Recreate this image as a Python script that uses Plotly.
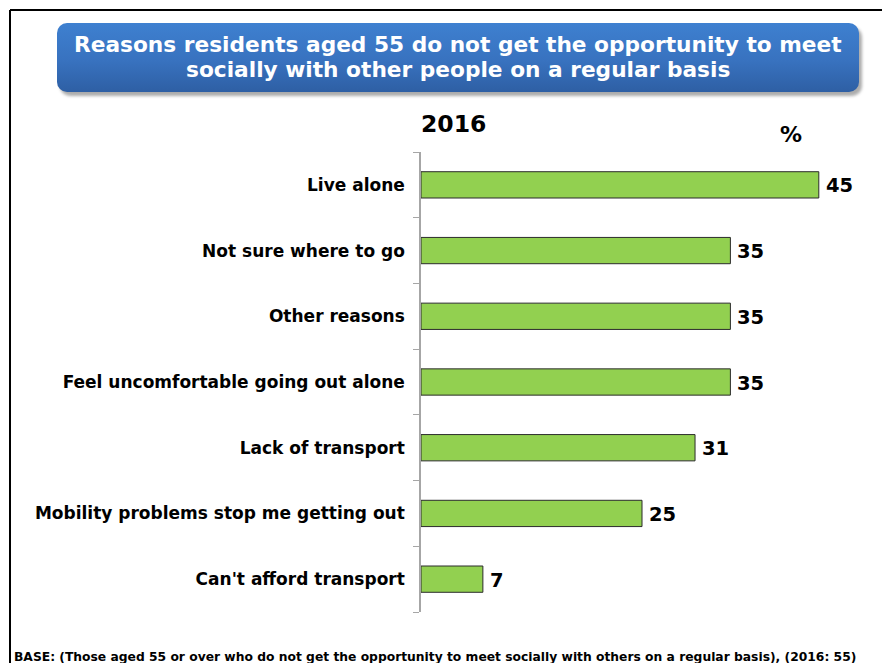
import base64
import plotly.graph_objects as go

# Survey results, 2016
categories = [
    "Live alone",
    "Not sure where to go",
    "Other reasons",
    "Feel uncomfortable going out alone",
    "Lack of transport",
    "Mobility problems stop me getting out",
    "Can't afford transport",
]
values = [45, 35, 35, 35, 31, 25, 7]
year_label = "2016"
title_lines = [
    "Reasons residents aged 55 do not get the opportunity to meet",
    "socially with other people on a regular basis",
]
base_note = ("BASE: (Those aged 55 or over who do not get the opportunity to meet "
             "socially with others on a regular basis), (2016: 55)")

W, H = 882, 663
ML, MR, MT, MB = 421, 19, 152, 51
PW, PH = W - ML - MR, H - MT - MB
FONT = "DejaVu Sans"


def px_x(p):
    return (p - ML) / PW


def px_y(p):
    return (H - MB - p) / PH


fig = go.Figure()
fig.add_trace(go.Bar(
    x=values, y=categories, orientation="h", width=0.4,
    marker=dict(color="#92D050", line=dict(color="#2b2b2b", width=1)),
    hoverinfo="skip",
))

# value labels to the right of each bar
for cat, v in zip(categories, values):
    fig.add_annotation(x=v, y=cat, text=f"<b>{v}</b>", showarrow=False,
                       xanchor="left", xshift=5, yshift=-1,
                       font=dict(family=FONT, size=19.5, color="black"))

# header box with vertical gradient
svg = """<svg xmlns='http://www.w3.org/2000/svg' width='810' height='76' viewBox='0 0 810 76'>
<defs>
<linearGradient id='g' x1='0' y1='0' x2='0' y2='1'>
<stop offset='0' stop-color='#3E80D0'/>
<stop offset='0.55' stop-color='#3872BF'/>
<stop offset='1' stop-color='#2E5FA4'/>
</linearGradient>
<filter id='s' x='-5%' y='-20%' width='110%' height='140%'><feGaussianBlur stdDeviation='1.6'/></filter>
</defs>
<rect x='3' y='4' width='802' height='69' rx='10' ry='10' fill='#8a8a8a' opacity='0.7' filter='url(#s)'/>
<rect x='0' y='0' width='802' height='69' rx='10' ry='10' fill='url(#g)'/>
</svg>"""
src = "data:image/svg+xml;base64," + base64.b64encode(svg.encode()).decode()
fig.add_layout_image(dict(
    source=src, xref="paper", yref="paper",
    x=px_x(57), y=px_y(23), sizex=810 / PW, sizey=76 / PH,
    xanchor="left", yanchor="top", sizing="stretch", layer="above",
))
for line, ypx in zip(title_lines, [45, 69]):
    fig.add_annotation(xref="paper", yref="paper", x=px_x(458), y=px_y(ypx),
                       text=f"<b>{line}</b>",
                       showarrow=False, xanchor="center", yanchor="middle",
                       font=dict(family=FONT, size=21.7, color="white"))

fig.add_annotation(xref="paper", yref="paper", x=px_x(419), y=px_y(124),
                   text=f"<b>{year_label}</b>", showarrow=False,
                   xanchor="left", yanchor="middle",
                   font=dict(family=FONT, size=23.5, color="black"))
fig.add_annotation(xref="paper", yref="paper", x=px_x(791), y=px_y(134),
                   text="<b>%</b>", showarrow=False,
                   xanchor="center", yanchor="middle",
                   font=dict(family=FONT, size=22, color="black"))
fig.add_annotation(xref="paper", yref="paper", x=px_x(12), y=px_y(657),
                   text=f"<b>{base_note}</b>", showarrow=False,
                   xanchor="left", yanchor="middle",
                   font=dict(family=FONT, size=12.3, color="black"))

# outer frame (top and left edges visible)
fig.add_shape(type="line", xref="paper", yref="paper",
              x0=px_x(10), x1=px_x(W + 5), y0=px_y(10), y1=px_y(10),
              line=dict(color="black", width=2))
fig.add_shape(type="line", xref="paper", yref="paper",
              x0=px_x(10), x1=px_x(10), y0=px_y(10), y1=px_y(H + 5),
              line=dict(color="black", width=2))

fig.update_layout(
    width=W, height=H,
    margin=dict(l=ML, r=MR, t=MT, b=MB),
    paper_bgcolor="white", plot_bgcolor="white",
    showlegend=False,
    bargap=0.6,
)
fig.update_xaxes(range=[0, 50], visible=False)
fig.update_yaxes(
    autorange="reversed", showline=True, linecolor="#a6a6a6", linewidth=1.5,
    ticks="outside", tickson="boundaries", ticklen=6, tickcolor="#a6a6a6",
    tickwidth=1, showgrid=False, ticklabelstandoff=11,
    tickfont=dict(family=FONT, size=17, color="black"),
)
fig.update_yaxes(tickvals=categories, ticktext=[f"<b>{c}</b>" for c in categories])

fig.write_html("out.html")
